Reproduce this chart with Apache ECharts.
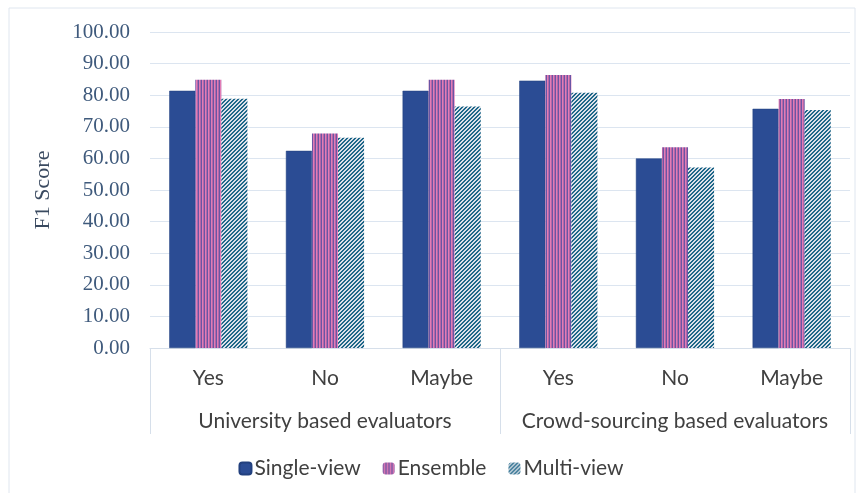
<!DOCTYPE html>
<html>
<head>
<meta charset="utf-8">
<style>
  html, body { margin: 0; padding: 0; background: #ffffff; }
  #chart { width: 862px; height: 493px; }
</style>
<script src="https://cdn.jsdelivr.net/npm/echarts@6/dist/echarts.min.js"></script>
</head>
<body>
<div id="chart"></div>
<script>
// Answer categories, repeated for each evaluator group
const categories = ['Yes', 'No', 'Maybe', 'Yes', 'No', 'Maybe'];
const groups = ['University based evaluators', 'Crowd-sourcing based evaluators'];
const seriesNames = ['Single-view', 'Ensemble', 'Multi-view'];

// F1 scores per category
const singleView = [81.4, 62.4, 81.4, 84.6, 60.0, 75.7];
const ensemble   = [84.9, 67.9, 84.9, 86.4, 63.5, 78.8];
const multiView  = [78.9, 66.5, 76.4, 80.8, 57.1, 75.3];

const yTicks = { min: 0, max: 100, interval: 10 };

// Pattern fills for the striped and hatched bars
function stripePattern() {
  const c = document.createElement('canvas');
  c.width = 3; c.height = 1;
  const g = c.getContext('2d');
  const cols = ['#6a55a5', '#e27db6', '#b467a8'];
  cols.forEach((col, i) => { g.fillStyle = col; g.fillRect(i, 0, 1, 1); });
  return { image: c, repeat: 'repeat' };
}
function hatchPattern() {
  const n = 4;
  const c = document.createElement('canvas');
  c.width = n; c.height = n;
  const g = c.getContext('2d');
  for (let x = 0; x < n; x++) {
    for (let y = 0; y < n; y++) {
      g.fillStyle = ((x + y) % n < 2) ? '#1f6889' : '#dde2ea';
      g.fillRect(x, y, 1, 1);
    }
  }
  return { image: c, repeat: 'repeat' };
}

const fills = ['#2b4c94', stripePattern(), hatchPattern()];
const values = [singleView, ensemble, multiView];

const chart = echarts.init(document.getElementById('chart'), null, { renderer: 'canvas' });

const catFont = { fontFamily: 'Lato', fontSize: 21, color: '#404040' };

chart.setOption({
  animation: false,
  backgroundColor: '#ffffff',
  graphic: [{
    type: 'rect',
    shape: { x: 9, y: 8, width: 846, height: 492 },
    style: { fill: 'none', stroke: '#dfe6ef', lineWidth: 1 },
    silent: true
  }],
  grid: { left: 150, right: 12, top: 32, bottom: 145 },
  legend: {
    top: 453,
    left: 'center',
    itemWidth: 12,
    itemHeight: 12,
    itemGap: 22,
    textStyle: { fontFamily: 'Lato', fontSize: 21, color: '#404040', padding: [0, 0, 0, -2] },
    data: seriesNames
  },
  xAxis: [
    {
      type: 'category',
      data: categories,
      axisLine: { show: true, lineStyle: { color: '#d6dfea', width: 1 } },
      axisTick: { show: false },
      axisLabel: Object.assign({ margin: 20, interval: 0 }, catFont)
    },
    {
      type: 'category',
      data: groups,
      position: 'bottom',
      axisLine: { show: false },
      axisTick: { show: true, interval: 0, length: 86, lineStyle: { color: '#d6dfea', width: 1 } },
      axisLabel: Object.assign({ margin: 63, interval: 0, hideOverlap: false }, catFont)
    }
  ],
  yAxis: {
    type: 'value',
    min: yTicks.min,
    max: yTicks.max,
    interval: yTicks.interval,
    name: 'F1 Score',
    nameLocation: 'middle',
    nameGap: 96,
    nameTextStyle: { fontFamily: 'Liberation Serif', fontSize: 22, color: '#3a4a60' },
    axisLine: { show: false },
    axisTick: { show: false },
    axisLabel: {
      margin: 20,
      fontFamily: 'Liberation Serif',
      fontSize: 21,
      color: '#3f5a7c',
      formatter: v => v.toFixed(2)
    },
    splitLine: { lineStyle: { color: '#dce5f0', width: 1 } }
  },
  series: seriesNames.map((name, i) => ({
    name,
    type: 'bar',
    xAxisIndex: 0,
    data: values[i],
    barGap: '0%',
    barCategoryGap: '33%',
    itemStyle: { color: fills[i], borderColor: i === 0 ? '#22407e' : 'transparent', borderWidth: i === 0 ? 0.5 : 0 }
  }))
});
</script>
</body>
</html>
